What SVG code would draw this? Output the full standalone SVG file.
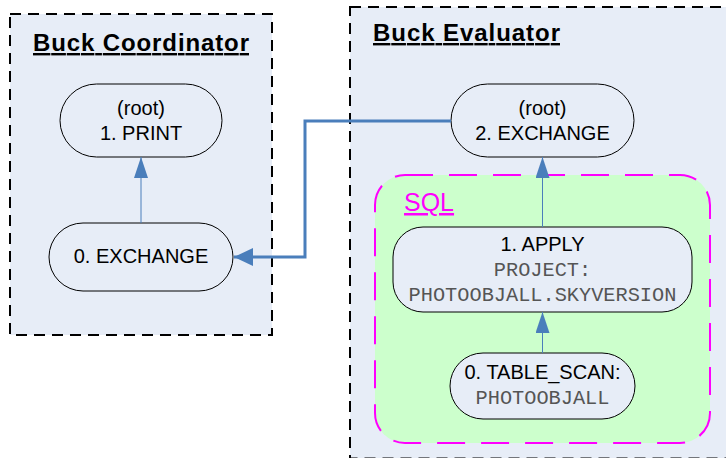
<svg xmlns="http://www.w3.org/2000/svg" width="726" height="458" viewBox="0 0 726 458">
<defs>
<style>
.container{fill:#e7edf7;stroke:#000;stroke-width:2;stroke-dasharray:11 7}
.sql{fill:#ccffcc;stroke:#ff00ff;stroke-width:2;stroke-dasharray:28 16}
.node{fill:#e7edf7;stroke:#000;stroke-width:1}
.title{font-family:"Liberation Sans",Arial,sans-serif;font-weight:bold;font-size:24px;text-decoration:underline;fill:#000}
.sqllabel{font-family:"Liberation Sans",Arial,sans-serif;font-size:25px;text-decoration:underline;fill:#ff00ff}
.lbl{font-family:"Liberation Sans",Arial,sans-serif;font-size:20px;fill:#000;text-anchor:middle}
.mono{font-family:"Liberation Mono","Courier New",monospace;font-size:20.3px;fill:#555;text-anchor:middle}
.thin{stroke:#4a7ebb;stroke-width:1;fill:none}
.thick{stroke:#4a7ebb;stroke-width:3;fill:none}
</style>
<marker id="arrowThin" markerUnits="userSpaceOnUse" markerWidth="21" markerHeight="14" refX="21" refY="7" orient="auto" viewBox="0 0 21 14">
<path d="M0,0 L21,7 L0,14 z" fill="#4a7ebb"/>
</marker>
<marker id="arrowThick" markerUnits="userSpaceOnUse" markerWidth="19" markerHeight="18" refX="19" refY="9" orient="auto" viewBox="0 0 19 18">
<path d="M0,0 L19,9 L0,18 z" fill="#4a7ebb"/>
</marker>
</defs>
<rect width="726" height="458" fill="#fff"/>
<g id="coordinator">
<rect class="container" x="10" y="14" width="262" height="321"/>
<text class="title" x="33" y="51" textLength="216" lengthAdjust="spacing">Buck Coordinator</text>
</g>
<g id="evaluator">
<rect class="container" x="350" y="7" width="390" height="451.5"/>
<text class="title" x="373" y="41" textLength="187" lengthAdjust="spacing">Buck Evaluator</text>
</g>
<g id="sql">
<rect class="sql" x="375" y="175" width="335" height="268" rx="30" ry="30"/>
<text class="sqllabel" x="404" y="211">SQL</text>
</g>
<g id="print">
<rect class="node" x="60" y="84" width="162" height="73" rx="36.5" ry="36.5"/>
<text class="lbl" x="141" y="115">(root)</text>
<text class="lbl" x="141" y="140">1. PRINT</text>
</g>
<g id="exchange0">
<rect class="node" x="49" y="223" width="184" height="68" rx="34" ry="34"/>
<text class="lbl" x="141" y="263">0. EXCHANGE</text>
</g>
<g id="exchange2">
<rect class="node" x="451" y="84" width="183" height="73" rx="36.5" ry="36.5"/>
<text class="lbl" x="542.5" y="115">(root)</text>
<text class="lbl" x="542.5" y="140">2. EXCHANGE</text>
</g>
<g id="apply">
<rect class="node" x="393" y="227" width="299" height="85" rx="30" ry="30"/>
<text class="lbl" x="542.5" y="251">1. APPLY</text>
<text class="mono" x="542.5" y="276">PROJECT:</text>
<text class="mono" x="542.5" y="301">PHOTOOBJALL.SKYVERSION</text>
</g>
<g id="tablescan">
<rect class="node" x="450" y="353" width="185" height="66" rx="33" ry="33"/>
<text class="lbl" x="542.5" y="379">0. TABLE_SCAN:</text>
<text class="mono" x="542.5" y="404">PHOTOOBJALL</text>
</g>
<g id="connectors">
<line class="thin" x1="141" y1="223" x2="141" y2="157" marker-end="url(#arrowThin)"/>
<line class="thin" x1="542.5" y1="227" x2="542.5" y2="157" marker-end="url(#arrowThin)"/>
<line class="thin" x1="542.5" y1="353" x2="542.5" y2="312" marker-end="url(#arrowThin)"/>
<polyline class="thick" points="451,121 305,121 305,257 234,257" marker-end="url(#arrowThick)"/>
</g>
</svg>
